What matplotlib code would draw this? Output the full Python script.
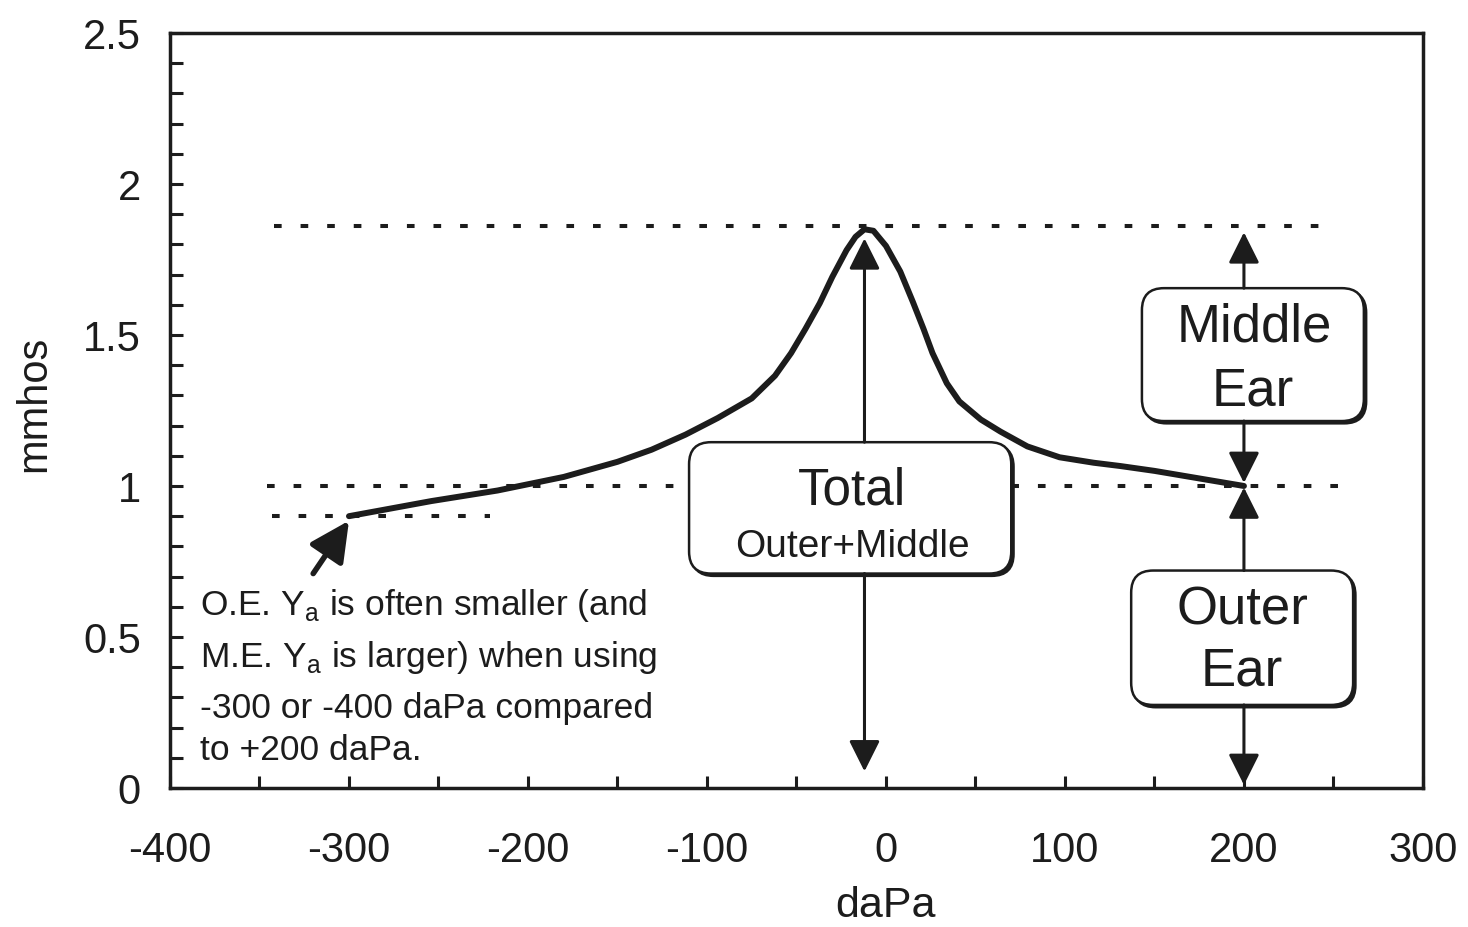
import matplotlib
matplotlib.use("Agg")
import matplotlib.pyplot as plt
from matplotlib.patches import FancyBboxPatch
from matplotlib.ticker import MultipleLocator, FuncFormatter

plt.rcParams["font.family"] = ["Liberation Sans", "DejaVu Sans"]
plt.rcParams["mathtext.fontset"] = "custom"
plt.rcParams["mathtext.rm"] = "Liberation Sans"
plt.rcParams["axes.unicode_minus"] = False

# Tympanogram: ear-canal pressure (daPa) vs admittance (mmhos)
pressure = [-300, -254, -217, -180, -150, -131, -112, -94, -75, -62, -53,
            -45, -37, -30, -22, -17, -12, -7, 0, 8, 15, 21, 26, 34, 41, 53,
            64, 79, 97, 116, 131, 150, 175, 200]
admittance = [0.90, 0.95, 0.985, 1.03, 1.08, 1.12, 1.17, 1.225, 1.29,
              1.365, 1.44, 1.52, 1.605, 1.692, 1.781, 1.825, 1.85, 1.845,
              1.795, 1.71, 1.61, 1.52, 1.44, 1.34, 1.28, 1.22, 1.18,
              1.131, 1.095, 1.077, 1.066, 1.05, 1.025, 1.00]

x_ticks = [-400, -300, -200, -100, 0, 100, 200, 300]
y_ticks = [0, 0.5, 1, 1.5, 2, 2.5]

note_lines = [
    "O.E. Y$_\\mathregular{a}$ is often smaller (and",
    "M.E. Y$_\\mathregular{a}$ is larger) when using",
    "-300 or -400 daPa compared",
    "to +200 daPa.",
]

ink = "#1c1c1c"

peak_i = admittance.index(max(admittance))
peak_x, peak_y = pressure[peak_i], admittance[peak_i]
pos_y = admittance[pressure.index(200)]
neg_y = admittance[pressure.index(-300)]

fig = plt.figure(figsize=(14.68, 9.28), dpi=100)
ax = fig.add_axes([0.1158, 0.1498, 0.8535, 0.8136])
ax.set_xlim(-400, 300)
ax.set_ylim(0, 2.5)

for s in ax.spines.values():
    s.set_linewidth(2.5)
    s.set_color(ink)

ax.set_xticks(x_ticks)
ax.set_yticks(y_ticks)
ax.xaxis.set_minor_locator(MultipleLocator(50))
ax.yaxis.set_minor_locator(MultipleLocator(0.1))
fmt = FuncFormatter(lambda v, p: f"{v:g}")
ax.xaxis.set_major_formatter(fmt)
ax.yaxis.set_major_formatter(fmt)
ax.tick_params(which="both", direction="in", length=9, width=2.2, color=ink,
               top=False, right=False)
ax.tick_params(axis="x", which="major", labelsize=30, pad=30, labelcolor=ink)
ax.tick_params(axis="y", which="major", labelsize=30, pad=21, labelcolor=ink)

ax.set_xlabel("daPa", fontsize=31, color=ink)
ax.xaxis.set_label_coords((0 - (-400)) / 700, -0.128)
ax.set_ylabel("mmhos", fontsize=30, color=ink)
ax.yaxis.set_label_coords(-0.092, 0.51)

# reference levels
dots = dict(color=ink, lw=2.9, linestyle=(0, (1.9, 4.7)), zorder=2)
ax.plot([-342, 248], [peak_y + 0.01, peak_y + 0.01], **dots)
ax.plot([-346, 253], [pos_y, pos_y], **dots)
ax.plot([-343, -221], [neg_y, neg_y], **dots)

# rounded boxes with a slight drop shadow
px_x = 700 / (0.8535 * 1468)
px_y = 2.5 / (0.8136 * 928)
aspect = px_y / px_x
radius = 22 * px_x


def rbox(x0, x1, y0, y1):
    style = f"round,pad=0,rounding_size={radius}"
    sh = FancyBboxPatch((x0 + 2.5 * px_x, y0 - 2.5 * px_y), x1 - x0, y1 - y0,
                        boxstyle=style, mutation_aspect=aspect,
                        fc=ink, ec=ink, lw=1.5, zorder=3)
    bx = FancyBboxPatch((x0, y0), x1 - x0, y1 - y0,
                        boxstyle=style, mutation_aspect=aspect,
                        fc="white", ec=ink, lw=1.8, zorder=3.1)
    ax.add_patch(sh)
    ax.add_patch(bx)


def arrow(x, y_from, y_to):
    ax.annotate("", xy=(x, y_to), xytext=(x, y_from),
                arrowprops=dict(arrowstyle="-|>,head_length=1.0,head_width=0.5",
                                mutation_scale=19, lw=2.2, color=ink,
                                shrinkA=0, shrinkB=0),
                zorder=3.5)


# Total box and arrows
tot = (-110, 70, 0.71, 1.145)
rbox(*tot)
arrow(peak_x, tot[3], peak_y - 0.03)
arrow(peak_x, tot[2], 0.055)
ax.text(-19, 1.005, "Total", fontsize=37, ha="center", va="center_baseline",
        color=ink, zorder=4)
ax.text(-19, 0.815, "Outer+Middle", fontsize=28, ha="center",
        va="center_baseline", color=ink, zorder=4)

# Middle ear box and arrows
me = (143, 267, 1.215, 1.655)
rbox(*me)
arrow(200, me[3], peak_y - 0.01)
arrow(200, me[2], pos_y + 0.01)
ax.text(206, 1.545, "Middle", fontsize=38, ha="center", va="center_baseline",
        color=ink, zorder=4)
ax.text(205, 1.335, "Ear", fontsize=38, ha="center", va="center_baseline",
        color=ink, zorder=4)

# Outer ear box and arrows
oe = (137, 261, 0.275, 0.72)
rbox(*oe)
arrow(200, oe[3], pos_y - 0.005)
arrow(200, oe[2], 0.01)
ax.text(199, 0.61, "Outer", fontsize=38, ha="center", va="center_baseline",
        color=ink, zorder=4)
ax.text(199, 0.408, "Ear", fontsize=38, ha="center", va="center_baseline",
        color=ink, zorder=4)

# tympanogram curve
ax.plot(pressure, admittance, color=ink, lw=4.3, solid_joinstyle="round",
        solid_capstyle="round", zorder=5)

# note with pointer to the -300 daPa end of the curve
ax.annotate("", xy=(-300, 0.885), xytext=(-320, 0.71),
            arrowprops=dict(arrowstyle="-|>,head_length=1.1,head_width=0.55",
                            mutation_scale=22, lw=4, color=ink,
                            shrinkA=0, shrinkB=0),
            zorder=5)
for line, yb in zip(note_lines, [0.576, 0.404, 0.235, 0.096]):
    ax.text(-383, yb, line, fontsize=25.5, ha="left", va="baseline",
            color=ink, zorder=4)

fig.savefig("out.png", dpi=100, facecolor="white")
